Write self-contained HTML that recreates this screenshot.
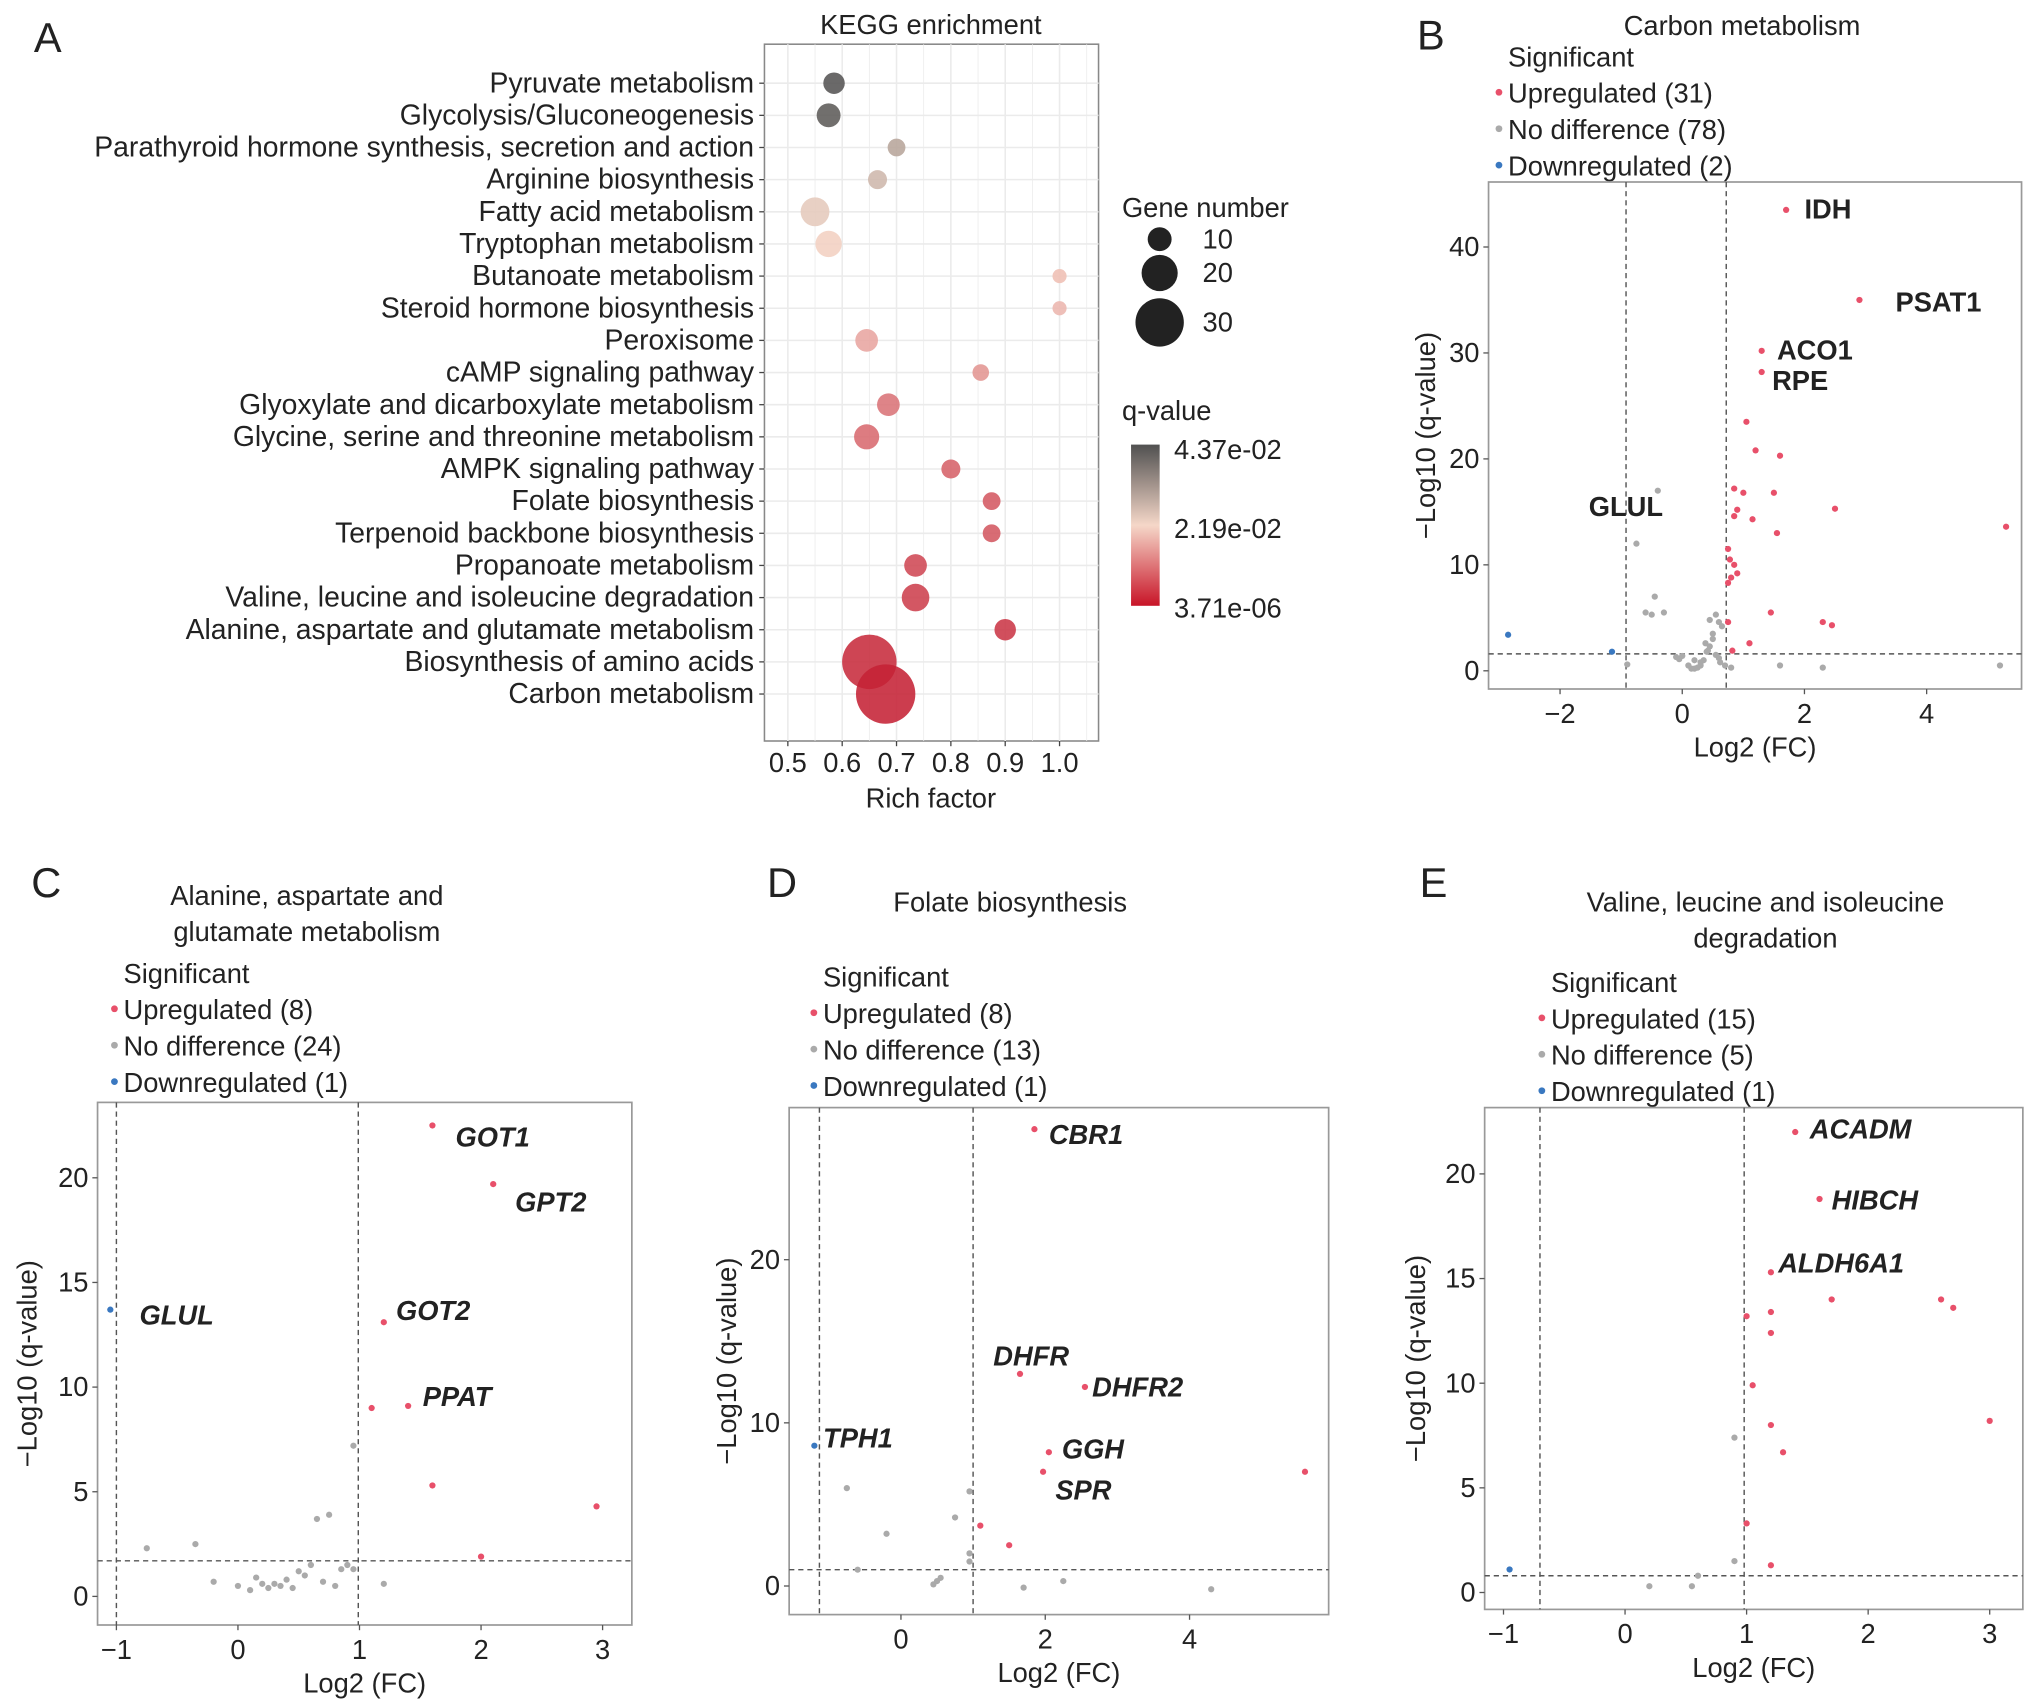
<!DOCTYPE html>
<html><head><meta charset="utf-8"><style>
html,body{margin:0;padding:0;background:#fff}
svg{display:block}
text{font-family:"Liberation Sans",sans-serif;fill:#222}
</style></head><body>
<svg id="fig" width="2032" height="1703" viewBox="0 0 1563 1310" xmlns="http://www.w3.org/2000/svg"></svg>
<script>
// ---------- Panel A data ----------
const keggPathways = ["Pyruvate metabolism","Glycolysis/Gluconeogenesis","Parathyroid hormone synthesis, secretion and action","Arginine biosynthesis","Fatty acid metabolism","Tryptophan metabolism","Butanoate metabolism","Steroid hormone biosynthesis","Peroxisome","cAMP signaling pathway","Glyoxylate and dicarboxylate metabolism","Glycine, serine and threonine metabolism","AMPK signaling pathway","Folate biosynthesis","Terpenoid backbone biosynthesis","Propanoate metabolism","Valine, leucine and isoleucine degradation","Alanine, aspartate and glutamate metabolism","Biosynthesis of amino acids","Carbon metabolism"];
const keggRich = [0.585,0.575,0.70,0.665,0.55,0.575,1.0,1.0,0.645,0.855,0.685,0.645,0.80,0.875,0.875,0.735,0.735,0.90,0.65,0.68];
const keggGenes = [8,10,5,6,14,12,2,2,9,4,9,11,6,5,5,9,13,8,35,39];
const keggQ = [0.043,0.042,0.030,0.027,0.024,0.021,0.019,0.018,0.016,0.014,0.010,0.009,0.008,0.007,0.0068,0.005,0.004,0.003,0.0015,0.0005];
const richTicks = [0.5,0.6,0.7,0.8,0.9,1.0];
const geneLegend = [10,20,30];
const qLegendLabels = ["4.37e-02","2.19e-02","3.71e-06"];

// ---------- Panel B-E data ----------
const bCounts=[31,78,2];
const bUpX=[1.7,2.9,1.3,1.3,1.05,1.2,1.6,0.85,1.0,1.5,2.5,0.9,0.85,1.15,1.55,5.3,0.75,0.78,0.85,0.9,0.8,0.75,1.45,2.3,2.45,1.1,0.75,0.82];
const bUpY=[43.5,35,30.2,28.2,23.5,20.8,20.3,17.2,16.8,16.8,15.3,15.2,14.6,14.3,13.0,13.6,11.5,10.5,10,9.2,8.8,8.3,5.5,4.6,4.3,2.6,4.6,1.9];
const bNoX=[-0.4,-0.75,-0.45,-0.6,-0.5,-0.3,0.55,0.6,0.45,0.65,0.5,-0.9,0.0,0.1,0.15,0.2,0.25,0.3,0.35,0.4,0.45,0.5,0.55,0.6,0.62,0.3,0.2,-0.1,-0.05,0.38,0.42,1.6,2.3,5.2,0.8,0.7];
const bNoY=[17,12,7,5.5,5.3,5.5,5.3,4.6,4.8,4.2,3.5,0.6,1.4,0.5,0.2,0.2,0.3,0.5,1.0,1.8,2.3,3.0,1.5,1.2,0.8,0.8,1.0,1.3,1.1,2.6,1.9,0.5,0.3,0.5,0.3,0.5];
const bDownX=[-2.85,-1.15];
const bDownY=[3.4,1.8];
const bLabNames=["IDH","PSAT1","ACO1","RPE","GLUL"];
const bLabX=[2.0,3.49,1.55,1.47,-1.53];
const bLabY=[42.7,33.9,29.4,26.5,14.6];

const cCounts=[8,24,1];
const cUpX=[1.6,2.1,1.2,1.4,1.1,1.6,2.95,2.0];
const cUpY=[22.5,19.7,13.1,9.1,9.0,5.3,4.3,1.9];
const cNoX=[0.95,0.65,0.75,-0.75,-0.35,-0.2,0,0.15,0.2,0.25,0.35,0.4,0.5,0.55,0.7,0.8,0.85,0.9,0.3,1.2,0.95,0.6,0.45,0.1];
const cNoY=[7.2,3.7,3.9,2.3,2.5,0.7,0.5,0.9,0.6,0.4,0.5,0.8,1.2,1.0,0.7,0.5,1.3,1.5,0.6,0.6,1.3,1.5,0.4,0.3];
const cDownX=[-1.05];
const cDownY=[13.7];
const cLabNames=["GOT1","GPT2","GOT2","PPAT","GLUL"];
const cLabX=[1.79,2.28,1.30,1.52,-0.81];
const cLabY=[21.5,18.4,13.2,9.1,13.0];

const dCounts=[8,13,1];
const dUpX=[1.85,1.65,2.55,2.05,1.97,5.6,1.1,1.5];
const dUpY=[28,13,12.2,8.2,7.0,7.0,3.7,2.5];
const dNoX=[-0.75,-0.2,-0.6,0.75,0.95,0.95,0.95,0.5,0.45,0.55,1.7,2.25,4.3];
const dNoY=[6.0,3.2,1.0,4.2,5.8,1.5,2.0,0.3,0.1,0.5,-0.1,0.3,-0.2];
const dDownX=[-1.2];
const dDownY=[8.6];
const dLabNames=["CBR1","DHFR","DHFR2","GGH","SPR","TPH1"];
const dLabX=[2.05,1.28,2.65,2.23,2.14,-1.08];
const dLabY=[27.1,13.5,11.6,7.8,5.3,8.5];

const eCounts=[15,5,1];
const eUpX=[1.4,1.6,1.2,1.7,2.6,2.7,1.0,1.2,1.2,1.05,3.0,1.2,1.3,1.0,1.2];
const eUpY=[22.0,18.8,15.3,14.0,14.0,13.6,13.2,13.4,12.4,9.9,8.2,8.0,6.7,3.3,1.3];
const eNoX=[0.9,0.9,0.6,0.55,0.2];
const eNoY=[7.4,1.5,0.8,0.3,0.3];
const eDownX=[-0.95];
const eDownY=[1.1];
const eLabNames=["ACADM","HIBCH","ALDH6A1"];
const eLabX=[1.52,1.70,1.26];
const eLabY=[21.7,18.3,15.3];

const NS="http://www.w3.org/2000/svg";
const svg=document.getElementById('fig');
function mk(tag,attrs,parent,txt){const e=document.createElementNS(NS,tag);for(const k in attrs)e.setAttribute(k,attrs[k]);if(txt!==undefined)e.textContent=txt;(parent||svg).appendChild(e);return e;}

// ---------------- Panel A ----------------
const gA=mk('g',{});


let t=mk('text',{x:26,y:40,'font-size':32},gA,'A');

const ax={l:588,r:845,t:34,b:570};
const rx=v=>606+(v-0.5)*418;
const ry=i=>64+i*24.73;
mk('rect',{x:ax.l,y:ax.t,width:ax.r-ax.l,height:ax.b-ax.t,fill:'#fff',stroke:'#888','stroke-width':1.2},gA);
for(let k=0;k<=11;k++){const v=0.5+k*0.05;mk('line',{x1:rx(v),x2:rx(v),y1:ax.t,y2:ax.b,stroke:'#ebebeb','stroke-width':k%2===0?1.2:0.6},gA);}
keggPathways.forEach((p,i)=>{mk('line',{x1:ax.l,x2:ax.r,y1:ry(i),y2:ry(i),stroke:'#ebebeb','stroke-width':1.2},gA);});
t=mk('text',{x:716,y:26,'font-size':21,'text-anchor':'middle'},gA,'KEGG enrichment');

function qColor(q){
  const f=Math.min(1,Math.max(0,q/0.0437));
  const stops=[[0,[196,30,50]],[0.5,[245,215,200]],[1,[80,80,80]]];
  let a=stops[0],b=stops[1];if(f>0.5){a=stops[1];b=stops[2];}
  const u=(f-a[0])/(b[0]-a[0]);
  return 'rgb('+a[1].map((c,k)=>Math.round(c+(b[1][k]-c)*u)).join(',')+')';
}
const rSize=n=>4.5+0.47*n;
keggPathways.forEach((p,i)=>{
  const lb=mk('text',{x:580,y:ry(i)+7,'font-size':21.8,'text-anchor':'end'},gA,p);
  
  mk('line',{x1:584,x2:588,y1:ry(i),y2:ry(i),stroke:'#444'},gA);
  const c=mk('circle',{cx:rx(keggRich[i]),cy:ry(i),r:rSize(keggGenes[i]),fill:qColor(keggQ[i]),'fill-opacity':0.88},gA);
  
});
richTicks.forEach(v=>{
  mk('line',{x1:rx(v),x2:rx(v),y1:ax.b,y2:ax.b+4,stroke:'#444'},gA);
  const tl=mk('text',{x:rx(v),y:594,'font-size':21,'text-anchor':'middle'},gA,v.toFixed(1));
  
});
t=mk('text',{x:716,y:621,'font-size':21,'text-anchor':'middle'},gA,'Rich factor');

t=mk('text',{x:863,y:167,'font-size':21},gA,'Gene number');

geneLegend.forEach((n,i)=>{
  const cy=[184,210,248][i];
  const c=mk('circle',{cx:892,cy:cy,r:rSize(n),fill:'#222'},gA);
  
  mk('text',{x:925,y:cy+7,'font-size':21},gA,String(n));
});
t=mk('text',{x:863,y:323,'font-size':21},gA,'q-value');

const defs=mk('defs',{});
const grad=mk('linearGradient',{id:'qg',x1:0,y1:0,x2:0,y2:1},defs);
mk('stop',{offset:'0','stop-color':'#505050'},grad);
mk('stop',{offset:'0.5','stop-color':'#f5d7c8'},grad);
mk('stop',{offset:'1','stop-color':'#c81428'},grad);
t=mk('rect',{x:870,y:342,width:22,height:124,fill:'url(#qg)'},gA);

qLegendLabels.forEach((s,i)=>{mk('text',{x:903,y:353+i*61,'font-size':21},gA,s);});

// ---------------- Volcano helper ----------------
function volcano(o){
  const g=mk('g',{});
  
  
  const X=v=>o.x0+v*o.kx, Y=v=>o.y0-v*o.ky;
  const L=mk('text',{x:o.letter[0],y:o.letter[1],'font-size':32},g,o.letterTxt);
  
  o.title.forEach((s,i)=>{const tt=mk('text',{x:o.titleX,y:o.titleY+i*28,'font-size':21,'text-anchor':'middle'},g,s);
    });
  const lgd=o.legend;
  mk('text',{x:lgd.x,y:lgd.y,'font-size':21},g,'Significant');
  const ents=[['Upregulated ('+o.counts[0]+')','#e8506a'],['No difference ('+o.counts[1]+')','#aaaaaa'],['Downregulated ('+o.counts[2]+')','#3a78c0']];
  ents.forEach((e,i)=>{
    const le=mk('text',{x:lgd.x,y:lgd.y+28*(i+1),'font-size':21},g,e[0]);
    
    mk('circle',{cx:lgd.x-7,cy:lgd.y+28*(i+1)-8,r:2.6,fill:e[1]},g);
  });
  const b=o.box;
  mk('rect',{x:b[0],y:b[1],width:b[2]-b[0],height:b[3]-b[1],fill:'#fff',stroke:'#999','stroke-width':1.3},g);
  o.vlines.forEach(v=>mk('line',{x1:X(v),x2:X(v),y1:b[1],y2:b[3],stroke:'#555','stroke-width':1.1,'stroke-dasharray':'4,3'},g));
  mk('line',{x1:b[0],x2:b[2],y1:Y(o.hline),y2:Y(o.hline),stroke:'#555','stroke-width':1.1,'stroke-dasharray':'4,3'},g);
  o.xticks.forEach(v=>{mk('line',{x1:X(v),x2:X(v),y1:b[3],y2:b[3]+4,stroke:'#555'},g);
    const tl=mk('text',{x:X(v),y:b[3]+26,'font-size':21,'text-anchor':'middle'},g,v<0?'\u2212'+(-v):String(v));
    });
  o.yticks.forEach(v=>{mk('line',{x1:b[0]-4,x2:b[0],y1:Y(v),y2:Y(v),stroke:'#555'},g);
    const tl=mk('text',{x:b[0]-7,y:Y(v)+7,'font-size':21,'text-anchor':'end'},g,String(v));
    });
  const xt=mk('text',{x:(b[0]+b[2])/2,y:b[3]+52,'font-size':21,'text-anchor':'middle'},g,'Log2 (FC)');
  
  const cy=(b[1]+b[3])/2;
  const yt=mk('text',{x:o.ytX,y:cy,'font-size':21,'text-anchor':'middle',transform:'rotate(-90 '+o.ytX+' '+cy+')'},g,'\u2212Log10 (q-value)');
  
  [[o.no,'#aaaaaa'],[o.up,'#e8506a'],[o.down,'#3a78c0']].forEach(s=>{
    s[0][0].forEach((xv,i)=>{const p=mk('circle',{cx:X(xv),cy:Y(s[0][1][i]),r:2.4,fill:s[1]},g);
      });
  });
  const names=o.labNames, lx=o.labX, ly=o.labY;
  for(let i=0;i<names.length;i++){
    const tx=mk('text',{x:X(lx[i]),y:Y(ly[i]),'font-size':21,'font-weight':'bold','font-style':o.italic?'italic':'normal'},g,names[i]);
    
    
  }
}

volcano({name:'panel-b-volcano',letterTxt:'B',letter:[1090,38],title:['Carbon metabolism'],titleX:1340,titleY:27,
  legend:{x:1160,y:51},box:[1145,140,1555,530],x0:1294,kx:47,y0:516,ky:8.15,counts:bCounts,
  vlines:[-0.92,0.72],hline:1.6,xticks:[-2,0,2,4],yticks:[0,10,20,30,40],ytX:1104,italic:false,
  up:[bUpX,bUpY],no:[bNoX,bNoY],down:[bDownX,bDownY],labNames:bLabNames,labX:bLabX,labY:bLabY});

volcano({name:'panel-c-volcano',letterTxt:'C',letter:[24,690],title:['Alanine, aspartate and','glutamate metabolism'],titleX:236,titleY:696,
  legend:{x:95,y:756},box:[75,848,486,1250],x0:183,kx:93.5,y0:1228,ky:16.1,counts:cCounts,
  vlines:[-1.0,0.99],hline:1.7,xticks:[-1,0,1,2,3],yticks:[0,5,10,15,20],ytX:28,italic:true,
  up:[cUpX,cUpY],no:[cNoX,cNoY],down:[cDownX,cDownY],labNames:cLabNames,labX:cLabX,labY:cLabY});

volcano({name:'panel-d-volcano',letterTxt:'D',letter:[590,690],title:['Folate biosynthesis'],titleX:777,titleY:701,
  legend:{x:633,y:759},box:[607,852,1022,1242],x0:693,kx:55.5,y0:1220,ky:12.55,counts:dCounts,
  vlines:[-1.13,1.0],hline:1.0,xticks:[0,2,4],yticks:[0,10,20],ytX:566,italic:true,
  up:[dUpX,dUpY],no:[dNoX,dNoY],down:[dDownX,dDownY],labNames:dLabNames,labX:dLabX,labY:dLabY});

volcano({name:'panel-e-volcano',letterTxt:'E',letter:[1092,690],title:['Valine, leucine and isoleucine','degradation'],titleX:1358,titleY:701,
  legend:{x:1193,y:763},box:[1142,852,1556,1238],x0:1250,kx:93.5,y0:1225,ky:16.1,counts:eCounts,
  vlines:[-0.7,0.98],hline:0.8,xticks:[-1,0,1,2,3],yticks:[0,5,10,15,20],ytX:1096,italic:true,
  up:[eUpX,eUpY],no:[eNoX,eNoY],down:[eDownX,eDownY],labNames:eLabNames,labX:eLabX,labY:eLabY});
</script>
</body></html>
